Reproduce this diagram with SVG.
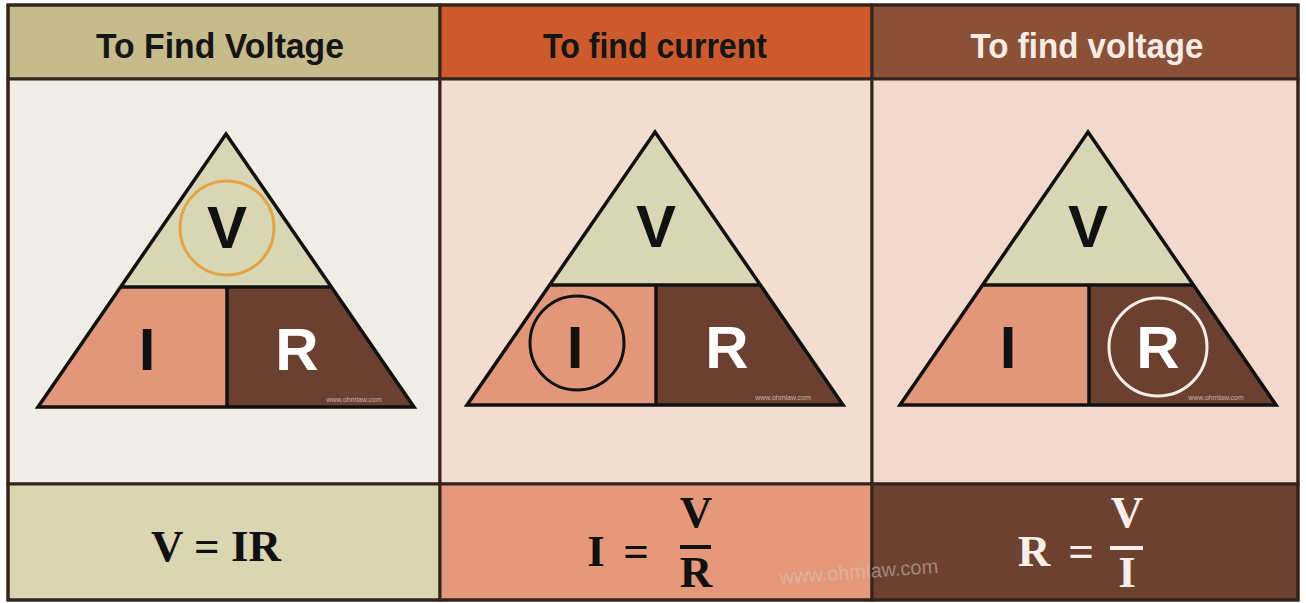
<svg xmlns="http://www.w3.org/2000/svg" width="1306" height="603" viewBox="0 0 1306 603">
<style>
.hdr{font-family:"Liberation Sans",Arial,sans-serif;font-weight:bold;font-size:35px;text-anchor:middle}
.big{font-family:"Liberation Sans",Arial,sans-serif;font-weight:bold;font-size:60px;text-anchor:middle}
.eq{font-family:"Liberation Serif","Times New Roman",serif;font-weight:bold;font-size:45px;text-anchor:middle}
.cell{stroke:#33241c;stroke-width:3}
.tline{stroke:#111;stroke-width:3.5;fill:none;stroke-linejoin:miter}
.wm{font-family:"Liberation Sans",Arial,sans-serif;font-size:7px;fill:#c7b3a8;text-anchor:middle}
</style>
<defs>
<g id="tri">
<polygon points="0,0 105.4,153 -105.4,153" fill="#d8d6b4"/>
<polygon points="-105.4,153 1,153 1,273 -188,273" fill="#e3977a"/>
<polygon points="1,153 105.4,153 188,273 1,273" fill="#6b4030"/>
<line x1="-105.4" y1="153" x2="105.4" y2="153" class="tline"/>
<line x1="1" y1="153" x2="1" y2="273" class="tline"/>
<polygon points="0,0 188,273 -188,273" class="tline"/>
<text x="128" y="268" class="wm">www.ohmlaw.com</text>
</g>
</defs>
<rect width="1306" height="603" fill="#ffffff"/>

<g id="col1">
<rect x="8" y="5" width="432" height="74" fill="#c6bb8c" class="cell"/>
<rect x="8" y="79" width="432" height="405" fill="#efede5" class="cell"/>
<rect x="8" y="484" width="432" height="116" fill="#dad6b2" class="cell"/>
<text x="220" y="58" class="hdr" fill="#151515" textLength="248" lengthAdjust="spacingAndGlyphs">To Find Voltage</text>
<g transform="translate(226,134)">
<use href="#tri"/>
<circle cx="1" cy="94" r="47" fill="none" stroke="#e3a443" stroke-width="3"/>
<text x="1" y="114" class="big" fill="#111">V</text>
<text x="-79" y="236" class="big" fill="#111">I</text>
<text x="71" y="236" class="big" fill="#ffffff">R</text>
</g>
<text x="216" y="561" class="eq" font-size="49" fill="#111">V = IR</text>
</g>

<g id="col2">
<rect x="440" y="5" width="432" height="74" fill="#cc5a2c" class="cell"/>
<rect x="440" y="79" width="432" height="405" fill="#f3ddd0" class="cell"/>
<rect x="440" y="484" width="432" height="116" fill="#e5997a" class="cell"/>
<text x="655" y="58" class="hdr" fill="#151515" textLength="224" lengthAdjust="spacingAndGlyphs">To find current</text>
<g transform="translate(655,132)">
<use href="#tri"/>
<circle cx="-78" cy="211" r="47" fill="none" stroke="#111" stroke-width="3"/>
<text x="1" y="115" class="big" fill="#111">V</text>
<text x="-80" y="236" class="big" fill="#111">I</text>
<text x="72" y="236" class="big" fill="#ffffff">R</text>
</g>
<g fill="#111">
<text x="596" y="566" class="eq">I</text>
<text x="636" y="566" class="eq">=</text>
<text x="696" y="527" class="eq" font-size="43">V</text>
<rect x="680" y="545" width="31" height="4"/>
<text x="696" y="587" class="eq" font-size="39">R</text>
</g>
</g>

<g id="col3">
<rect x="872" y="5" width="426" height="74" fill="#8b5038" class="cell"/>
<rect x="872" y="79" width="426" height="405" fill="#f3d9cd" class="cell"/>
<rect x="872" y="484" width="426" height="116" fill="#6c4130" class="cell"/>
<text x="1087" y="58" class="hdr" fill="#f7ece4" textLength="233" lengthAdjust="spacingAndGlyphs">To find voltage</text>
<g transform="translate(1088,132)">
<use href="#tri"/>
<circle cx="70" cy="215" r="49" fill="none" stroke="#f5ede6" stroke-width="3"/>
<text x="0" y="115" class="big" fill="#111">V</text>
<text x="-80" y="236" class="big" fill="#111">I</text>
<text x="70" y="236" class="big" fill="#ffffff">R</text>
</g>
<g fill="#f7efe8">
<text x="1034" y="566" class="eq">R</text>
<text x="1081" y="566" class="eq">=</text>
<text x="1127" y="527" class="eq" font-size="43">V</text>
<rect x="1110" y="546" width="33" height="4"/>
<text x="1127" y="587" class="eq" font-size="39">I</text>
</g>
</g>

<g id="frame">
<rect x="8" y="5" width="1290" height="595" fill="none" stroke="#33241c" stroke-width="3"/>
</g>

<g id="watermark">
<text x="780" y="584" transform="rotate(-4 780 584)" font-family="Liberation Sans, Arial, sans-serif" font-size="20" fill="#d8ccc4" fill-opacity="0.5">www.ohmlaw.com</text>
</g>
</svg>
